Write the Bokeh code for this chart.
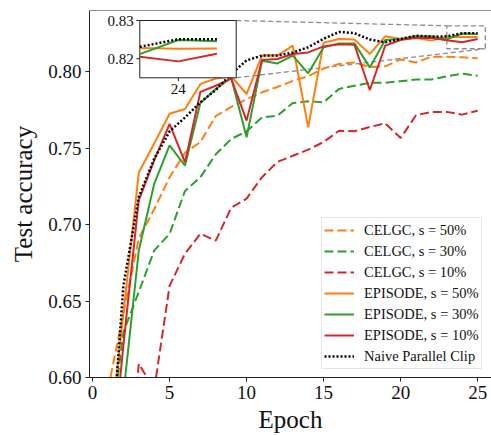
from bokeh.plotting import figure
from bokeh.models import Range1d, FixedTicker, Legend, LegendItem, Span, NumeralTickFormatter
from bokeh.embed import file_html
from bokeh.resources import INLINE
from bokeh.core.properties import value

FONT = "Liberation Serif"

# ---------------- data ----------------
epochs = list(range(1, 26))

celgc_50 = [0.592, 0.642, 0.691, 0.710, 0.731, 0.747, 0.754, 0.771, 0.777, 0.782,
            0.7865, 0.790, 0.794, 0.797, 0.802, 0.805, 0.806, 0.803, 0.8035, 0.808,
            0.806, 0.8098, 0.8098, 0.8094, 0.8088]
celgc_30 = [0.550, 0.6296, 0.656, 0.683, 0.694, 0.722, 0.731, 0.746, 0.756, 0.761,
            0.770, 0.7712, 0.7795, 0.7806, 0.780, 0.7887, 0.7908, 0.7927, 0.7928, 0.7938,
            0.7949, 0.7949, 0.797, 0.7987, 0.7974]
celgc_10 = [0.400, 0.494, 0.609, 0.592, 0.660, 0.681, 0.694, 0.6895, 0.711, 0.717,
            0.731, 0.741, 0.745, 0.749, 0.754, 0.7614, 0.761, 0.7638, 0.7662, 0.7566,
            0.7715, 0.7737, 0.7737, 0.7719, 0.7745]
episode_50 = [0.550, 0.642, 0.734, 0.753, 0.7725, 0.7756, 0.792, 0.7955, 0.797, 0.7854,
              0.8105, 0.8105, 0.817, 0.7636, 0.819, 0.8214, 0.821, 0.8116, 0.8231, 0.8214,
              0.822, 0.8203, 0.8228, 0.8226, 0.8227]
episode_30 = [0.497, 0.589, 0.683, 0.7266, 0.7518, 0.7386, 0.7795, 0.7887, 0.796, 0.7571,
              0.8072, 0.8054, 0.8105, 0.7989, 0.8159, 0.8185, 0.8185, 0.8028, 0.8207, 0.8214,
              0.8231, 0.823, 0.8212, 0.8249, 0.8246]
episode_10 = [0.518, 0.621, 0.716, 0.742, 0.7658, 0.7407, 0.7868, 0.7908, 0.7955, 0.768,
              0.8076, 0.8083, 0.8116, 0.8126, 0.8165, 0.818, 0.8176, 0.788, 0.817, 0.8207,
              0.8222, 0.822, 0.8205, 0.8193, 0.8213]
naive = [0.520, 0.660, 0.718, 0.743, 0.761, 0.770, 0.780, 0.788, 0.7985, 0.8074,
         0.8105, 0.8105, 0.8125, 0.816, 0.8215, 0.826, 0.8252, 0.821, 0.8192, 0.8214,
         0.8235, 0.823, 0.8231, 0.8251, 0.8251]

labels = ["CELGC, s = 50%", "CELGC, s = 30%", "CELGC, s = 10%",
          "EPISODE, s = 50%", "EPISODE, s = 30%", "EPISODE, s = 10%",
          "Naive Parallel Clip"]
series = [celgc_50, celgc_30, celgc_10, episode_50, episode_30, episode_10, naive]

x_ticks = [0, 5, 10, 15, 20, 25]
y_ticks = [0.60, 0.65, 0.70, 0.75, 0.80]
inset_y_ticks = [0.82, 0.83]
inset_x_ticks = [24]
inset_x_lim = (23, 25.5)
inset_y_lim = (0.815, 0.83)

# ---------------- styles / layout ----------------
ORANGE, GREEN, RED = "#ff7f0e", "#2ca02c", "#d62728"
styles = [
    dict(color=ORANGE, dash="9 4", width=2),
    dict(color=GREEN, dash="9 4", width=2),
    dict(color=RED, dash="9 4", width=2),
    dict(color=ORANGE, dash="solid", width=2),
    dict(color=GREEN, dash="solid", width=2),
    dict(color=RED, dash="solid", width=2),
    dict(color="black", dash="2 2", width=2.5),
]

W, H = 491, 435
ML, MR, MT, MB = 89, 0, 10, 58
FW = W - ML - MR
FH = H - MT - MB
X0, X1 = -0.2, 25.9
Y0, Y1 = 0.60, 0.84

p = figure(width=W, height=H, x_range=Range1d(X0, X1), y_range=Range1d(Y0, Y1),
           output_backend="svg", toolbar_location=None,
           min_border_left=ML, min_border_right=MR, min_border_top=MT, min_border_bottom=MB)
p.outline_line_color = None
p.xgrid.visible = False
p.ygrid.visible = False

# inset pixel box relative to frame (left/right from frame left, top/bottom from frame top)
IL, IR, IT, IB = 50.3, 146.7, 10.0, 67.3
kx = (IR - IL) / (inset_x_lim[1] - inset_x_lim[0])
ky = (IB - IT) / (inset_y_lim[1] - inset_y_lim[0])
ix_start = inset_x_lim[0] - IL / kx
iy_start = inset_y_lim[0] - (FH - IB) / ky
p.extra_x_ranges = {"ix": Range1d(ix_start, ix_start + FW / kx)}
p.extra_y_ranges = {"iy": Range1d(iy_start, iy_start + FH / ky)}

def main_x(px):
    return X0 + px / FW * (X1 - X0)

def main_y(py_from_top):
    return Y1 - py_from_top / FH * (Y1 - Y0)

GRAY = "#8c8c8c"
# zoom rectangle and connectors (behind data)
p.quad(left=[inset_x_lim[0]], right=[inset_x_lim[1]], bottom=[inset_y_lim[0]], top=[inset_y_lim[1]],
       fill_color=None, line_color=GRAY, line_dash="5 3", line_width=1.3)
p.line([main_x(IR), inset_x_lim[0]], [main_y(IT), inset_y_lim[1]],
       line_color=GRAY, line_dash="5 3", line_width=1.3)
p.line([main_x(IR), inset_x_lim[1]], [main_y(IB), inset_y_lim[0]],
       line_color=GRAY, line_dash="5 3", line_width=1.3)

renderers = []
for s, st in zip(series, styles):
    r = p.line(epochs, s, line_color=st["color"], line_dash=st["dash"], line_width=st["width"])
    renderers.append(r)

# inset
p.quad(left=[inset_x_lim[0]], right=[inset_x_lim[1]], bottom=[inset_y_lim[0]], top=[inset_y_lim[1]],
       fill_color="white", line_color="#222222", line_width=1,
       x_range_name="ix", y_range_name="iy")
for s, st in zip(series, styles):
    xs = [e for e in epochs if e >= inset_x_lim[0]]
    ys = s[len(epochs) - len(xs):]
    if min(ys) < inset_y_lim[0]:
        continue
    p.line(xs, ys, line_color=st["color"], line_dash=st["dash"], line_width=st["width"],
           x_range_name="ix", y_range_name="iy")
TL = 3.5
p.segment(x0=[inset_x_lim[0]] * len(inset_y_ticks), x1=[inset_x_lim[0] - TL / kx] * len(inset_y_ticks),
          y0=inset_y_ticks, y1=inset_y_ticks, line_color="#222222", line_width=1,
          x_range_name="ix", y_range_name="iy")
p.segment(x0=inset_x_ticks, x1=inset_x_ticks, y0=[inset_y_lim[0]] * len(inset_x_ticks),
          y1=[inset_y_lim[0] - TL / ky] * len(inset_x_ticks), line_color="#222222", line_width=1,
          x_range_name="ix", y_range_name="iy")
p.text(x=[inset_x_lim[0]] * len(inset_y_ticks), y=inset_y_ticks, text=["%.2f" % t for t in inset_y_ticks],
       text_font=value(FONT), text_font_size="15px", text_align="right", text_baseline="middle",
       x_offset=-6, text_color="#111111", x_range_name="ix", y_range_name="iy")
p.text(x=inset_x_ticks, y=[inset_y_lim[0]] * len(inset_x_ticks), text=[str(t) for t in inset_x_ticks],
       text_font=value(FONT), text_font_size="15px", text_align="center", text_baseline="top",
       y_offset=6, text_color="#111111", x_range_name="ix", y_range_name="iy")

# top spine
p.add_layout(Span(location=Y1, dimension="width", line_color="#222222", line_width=1))

# axes
for ax in (p.xaxis[0], p.yaxis[0]):
    ax.axis_line_color = "#222222"
    ax.major_tick_line_color = "#222222"
    ax.major_tick_in = 0
    ax.major_tick_out = 4
    ax.minor_tick_line_color = None
    ax.major_label_text_font = FONT
    ax.major_label_text_font_size = "19px"
    ax.major_label_text_color = "#111111"
    ax.axis_label_text_font = FONT
    ax.axis_label_text_font_size = "25px"
    ax.axis_label_text_font_style = "normal"
    ax.axis_label_text_color = "#111111"
p.xaxis.ticker = FixedTicker(ticks=x_ticks)
p.yaxis.ticker = FixedTicker(ticks=y_ticks)
p.yaxis.formatter = NumeralTickFormatter(format="0.00")
p.xaxis.axis_label = "Epoch"
p.yaxis.axis_label = "Test accuracy"
p.xaxis.major_label_standoff = 4
p.yaxis.major_label_standoff = 4
p.xaxis.axis_label_standoff = 4
p.yaxis.axis_label_standoff = 8

legend = Legend(items=[LegendItem(label=l, renderers=[r]) for l, r in zip(labels, renderers)],
                location=(232, 8), label_text_font=FONT, label_text_font_size="14.5px",
                label_text_color="#111111",
                glyph_width=30, glyph_height=20, label_height=20, spacing=1, padding=2,
                label_standoff=10, border_line_color="#cccccc", border_line_width=1,
                background_fill_alpha=0.85)
p.add_layout(legend)

open("out.html", "w").write(file_html(p, INLINE))
